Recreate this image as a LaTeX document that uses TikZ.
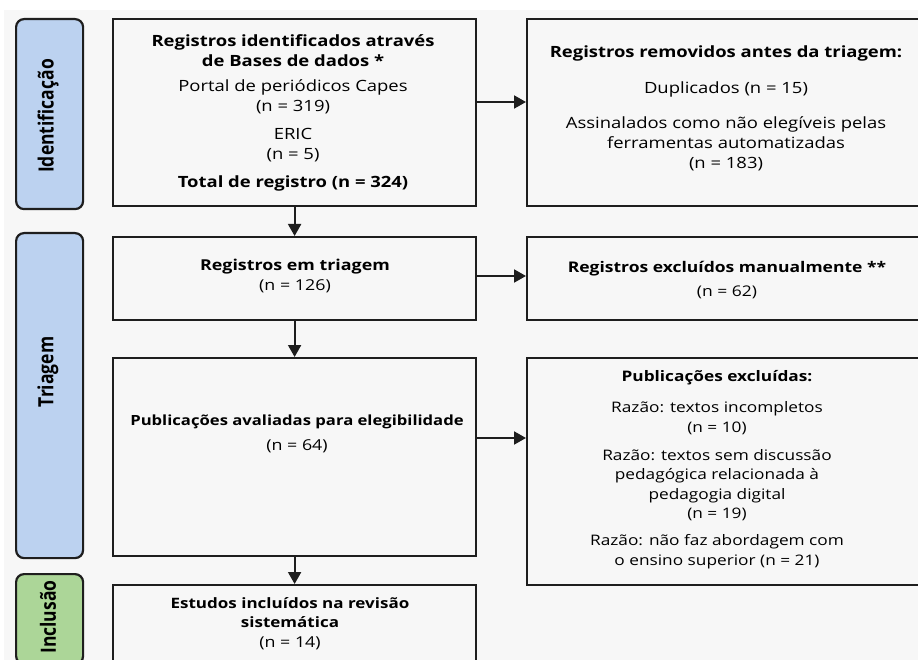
\documentclass[tikz,border=0pt]{standalone}
\usepackage{fontspec}
\setmainfont{Open Sans}[FakeStretch=1.19]
\newfontfamily\lblfont{Open Sans}
\usetikzlibrary{arrows.meta}
\definecolor{bgray}{RGB}{247,247,247}
\definecolor{lblue}{RGB}{188,210,240}
\definecolor{lgreen}{RGB}{172,214,152}
\definecolor{edge}{RGB}{30,30,30}
\tikzset{
  box/.style={draw=edge, line width=2.2pt, fill=bgray, rectangle, inner sep=0pt, anchor=north west},
  phase/.style={draw=edge, line width=2.2pt, rounded corners=8pt, rectangle, inner sep=0pt, anchor=north west},
  phasetxt/.style={rotate=90, inner sep=0pt, font=\lblfont\fontsize{17.5}{20}\selectfont\bfseries},
  txt/.style={align=center, font=\fontsize{15.5}{20}\selectfont, inner sep=0pt},
  btxt/.style={align=center, font=\fontsize{15.5}{20}\selectfont\bfseries, inner sep=0pt},
  stxt/.style={align=center, font=\fontsize{14.5}{19.5}\selectfont, inner sep=0pt},
  arr/.style={line width=2pt, draw=edge, -{Triangle[length=12pt,width=13pt]}}
}
\begin{document}
\begin{tikzpicture}[x=1pt,y=-1pt]
\useasboundingbox (0,0) rectangle (918,660);
\fill[white] (0,0) rectangle (918,660);
\fill[bgray] (4,10) rectangle (918,660);

% phase labels
\node[phase, fill=lblue, minimum width=67pt, minimum height=190pt] (pid) at (15,18) {};
\node[phasetxt] (pidt) at (48,116) {\scalebox{1}[1.2]{Identificação}};
\node[phase, fill=lblue, minimum width=67pt, minimum height=325pt] (ptr) at (15,232) {};
\node[phasetxt] (ptrt) at (48,372) {\scalebox{1}[1.2]{Triagem}};
\node[phase, fill=lgreen, minimum width=67pt, minimum height=90pt] (pin) at (15,573) {};
\node[phasetxt] (pint) at (48,617) {\scalebox{1}[1.2]{Inclusão}};

% left column boxes
\node[box, minimum width=363pt, minimum height=187pt] (b1) at (112,18) {};
\node[box, minimum width=363pt, minimum height=83pt] (b2) at (112,236) {};
\node[box, minimum width=363pt, minimum height=198pt] (b3) at (112,357) {};
\node[box, minimum width=363pt, minimum height=80pt] (b4) at (112,584) {};

% right column boxes
\node[box, minimum width=404pt, minimum height=187pt] (r1) at (526,18) {};
\node[box, minimum width=404pt, minimum height=83pt] (r2) at (526,236) {};
\node[box, minimum width=404pt, minimum height=227pt] (r3) at (526,357) {};

% texts box 1
\node[btxt] (t1a) at (293,50.5) {Registros identificados através\\de Bases de dados *};
\node[txt] (t1b) at (293,97) {Portal de periódicos Capes\\(n = 319)};
\node[txt] (t1c) at (293,145) {ERIC\\(n = 5)};
\node[btxt] (t1d) at (293,183) {Total de registro (n = 324)};

% texts box r1
\node[btxt] (tr1a) at (726,53) {Registros removidos antes da triagem:};
\node[txt] (tr1b) at (726,89) {Duplicados (n = 15)};
\node[txt] (tr1c) at (726,144) {Assinalados como não elegíveis pelas\\ferramentas automatizadas\\(n = 183)};

% box 2
\node[txt, font=\fontsize{15}{20}\selectfont] (t2) at (295,276) {\textbf{Registros em triagem}\\(n = 126)};
% box r2
\node[txt, font=\fontsize{14.7}{20}\selectfont] (tr2) at (727,280) {\textbf{Registros excluídos manualmente **}\\[4pt](n = 62)};

% box 3
\node[txt, font=\fontsize{14}{20}\selectfont] (t3) at (297,434) {\textbf{Publicações avaliadas para elegibilidade}\\[5pt]\fontsize{15}{20}\selectfont(n = 64)};

% box r3
\node[stxt] (tr3a) at (717,378) {\textbf{Publicações excluídas:}};
\node[stxt] (tr3b) at (717,418) {Razão: textos incompletos\\(n = 10)};
\node[stxt] (tr3c) at (717,485) {Razão: textos sem discussão\\pedagógica relacionada à\\pedagogia digital\\(n = 19)};
\node[stxt] (tr3d) at (717,551.5) {Razão: não faz abordagem com\\o ensino superior (n = 21)};

% box 4
\node[txt, font=\fontsize{14.3}{19.5}\selectfont] (t4) at (290,623.5) {\textbf{Estudos incluídos na revisão}\\\textbf{sistemática}\\\fontsize{15}{19.5}\selectfont(n = 14)};

% connectors
\coordinate (ya) at (0,102);
\coordinate (yb) at (0,276);
\coordinate (yc) at (0,438);
\draw[arr] (b1.south) -- (b2.north);
\draw[arr] (b2.south) -- (b3.north);
\draw[arr] (b3.south) -- (b4.north);
\draw[arr] (b1.east |- ya) -- (r1.west |- ya);
\draw[arr] (b2.east |- yb) -- (r2.west |- yb);
\draw[arr] (b3.east |- yc) -- (r3.west |- yc);
\end{tikzpicture}
\end{document}
